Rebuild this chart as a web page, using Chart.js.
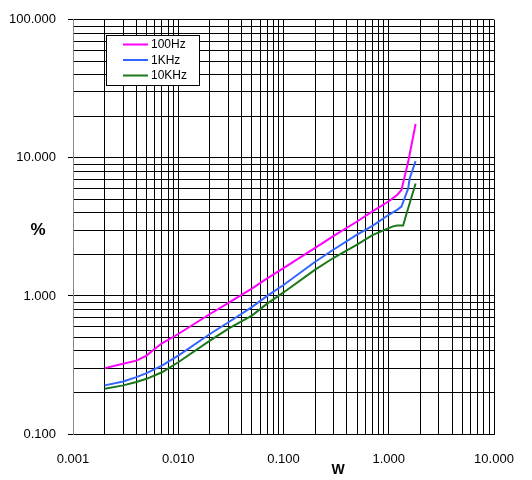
<!DOCTYPE html>
<html>
<head>
<meta charset="utf-8">
<script src="https://cdn.jsdelivr.net/npm/chart.js@4/dist/chart.umd.min.js"></script>
<style>
html,body{margin:0;padding:0;background:#fff;}
#wrap{width:532px;height:480px;position:relative;}
</style>
</head>
<body>
<div id="wrap"><canvas id="c" width="532" height="480"></canvas></div>
<script>
// Data (W, %)
const seriesLabels = ["100Hz", "1KHz", "10KHz"];
const seriesColors = ["#ff00ff", "#3366ff", "#1a781a"];

const w100 = [0.002, 0.003, 0.004, 0.005, 0.006, 0.007, 0.01, 0.02, 0.03, 0.05, 0.07, 0.1, 0.2, 0.3, 0.5, 0.7, 1.0, 1.2, 1.32, 1.53, 1.8];
const v100 = [0.30, 0.323, 0.34, 0.37, 0.414, 0.454, 0.53, 0.74, 0.89, 1.13, 1.34, 1.59, 2.23, 2.72, 3.46, 4.1, 4.85, 5.39, 5.86, 9.36, 17.6];

const w1k = [0.002, 0.003, 0.004, 0.005, 0.007, 0.01, 0.02, 0.03, 0.05, 0.07, 0.1, 0.2, 0.3, 0.5, 0.7, 1.0, 1.2, 1.32, 1.53, 1.58, 1.8];
const v1k = [0.225, 0.24, 0.258, 0.276, 0.313, 0.37, 0.53, 0.645, 0.83, 1.0, 1.2, 1.77, 2.17, 2.78, 3.22, 3.87, 4.2, 4.44, 6.0, 7.1, 9.46];

const w10k = [0.002, 0.003, 0.004, 0.005, 0.007, 0.01, 0.02, 0.03, 0.05, 0.07, 0.1, 0.2, 0.3, 0.5, 0.7, 1.0, 1.1, 1.2, 1.37, 1.48, 1.8];
const v10k = [0.213, 0.225, 0.238, 0.251, 0.28, 0.331, 0.475, 0.58, 0.72, 0.88, 1.06, 1.55, 1.89, 2.35, 2.76, 3.10, 3.19, 3.24, 3.24, 3.97, 6.53];

const xMin = 0.001, xMax = 10;
const yMin = 0.1, yMax = 100;
const xTitle = "W";
const yTitle = "%";

function pts(xs, ys){ return xs.map((x,i)=>({x:x, y:ys[i]})); }
function logTicks(min, max){
  const t = [];
  for (let e = Math.round(Math.log10(min)); e < Math.round(Math.log10(max)); e++){
    for (let m = 1; m <= 9; m++) t.push({value: +(m*Math.pow(10,e)).toPrecision(6)});
  }
  t.push({value: max});
  return t;
}
function isMajor(v){ const l = Math.log10(v); return Math.abs(l - Math.round(l)) < 1e-9; }

const FONT = "'Liberation Sans', Arial, sans-serif";

const legendAndTitles = {
  id: 'legendAndTitles',
  afterDraw(chart){
    const ctx = chart.ctx;
    ctx.save();
    // legend box
    ctx.fillStyle = '#fff';
    ctx.fillRect(106.5, 35.5, 93, 50);
    ctx.strokeStyle = '#000';
    ctx.lineWidth = 1;
    ctx.strokeRect(106.5, 35.5, 93, 50);
    const rows = [44.5, 60, 75.5];
    ctx.font = "12px " + FONT;
    ctx.textBaseline = 'middle';
    ctx.textAlign = 'left';
    seriesLabels.forEach((lab, i)=>{
      ctx.strokeStyle = seriesColors[i];
      ctx.lineWidth = 2;
      ctx.beginPath();
      ctx.moveTo(123, rows[i]);
      ctx.lineTo(148, rows[i]);
      ctx.stroke();
      ctx.fillStyle = '#000';
      ctx.fillText(lab, 151, rows[i] + 0.5);
    });
    // axis titles
    ctx.fillStyle = '#000';
    ctx.textAlign = 'center';
    ctx.font = "bold 17px " + FONT;
    ctx.fillText(yTitle, 38, 230);
    ctx.font = "bold 14px " + FONT;
    ctx.fillText(xTitle, 338, 470);
    ctx.restore();
  }
};

new Chart(document.getElementById('c'), {
  type: 'scatter',
  data: {
    datasets: [
      {label: seriesLabels[0], data: pts(w100, v100), borderColor: seriesColors[0]},
      {label: seriesLabels[1], data: pts(w1k, v1k), borderColor: seriesColors[1]},
      {label: seriesLabels[2], data: pts(w10k, v10k), borderColor: seriesColors[2]}
    ].map(d => Object.assign(d, {showLine: true, pointRadius: 0, borderWidth: 2, tension: 0, fill: false, backgroundColor: d.borderColor}))
  },
  options: {
    responsive: false,
    animation: false,
    devicePixelRatio: 1,
    layout: {padding: {left: 0, right: 38, top: 17, bottom: 0}},
    plugins: {legend: {display: false}, tooltip: {enabled: false}},
    scales: {
      x: {
        type: 'logarithmic',
        min: xMin, max: xMax,
        afterBuildTicks(s){ s.ticks = logTicks(xMin, xMax); },
        afterFit(s){ s.height = 46; },
        border: {display: true, color: '#000', width: 1},
        grid: {color: '#000', lineWidth: 1, drawTicks: false},
        ticks: {
          autoSkip: false, maxRotation: 0, minRotation: 0, padding: 18,
          color: '#000', font: {family: FONT, size: 13},
          callback(v){ return isMajor(v) ? Number(v).toFixed(3) : ''; }
        }
      },
      y: {
        type: 'logarithmic',
        min: yMin, max: yMax,
        afterBuildTicks(s){ s.ticks = logTicks(yMin, yMax); },
        afterFit(s){ s.width = 73; },
        border: {display: true, color: '#888', width: 1},
        grid: {
          color: '#000', lineWidth: 1, drawTicks: true, tickLength: 5,
          tickColor(ctx){ return (ctx.tick && isMajor(ctx.tick.value)) ? '#000' : 'rgba(0,0,0,0)'; }
        },
        ticks: {
          autoSkip: false, padding: 12,
          color: '#000', font: {family: FONT, size: 13},
          callback(v){ return isMajor(v) ? Number(v).toFixed(3) : ''; }
        }
      }
    }
  },
  plugins: [legendAndTitles]
});
</script>
</body>
</html>
